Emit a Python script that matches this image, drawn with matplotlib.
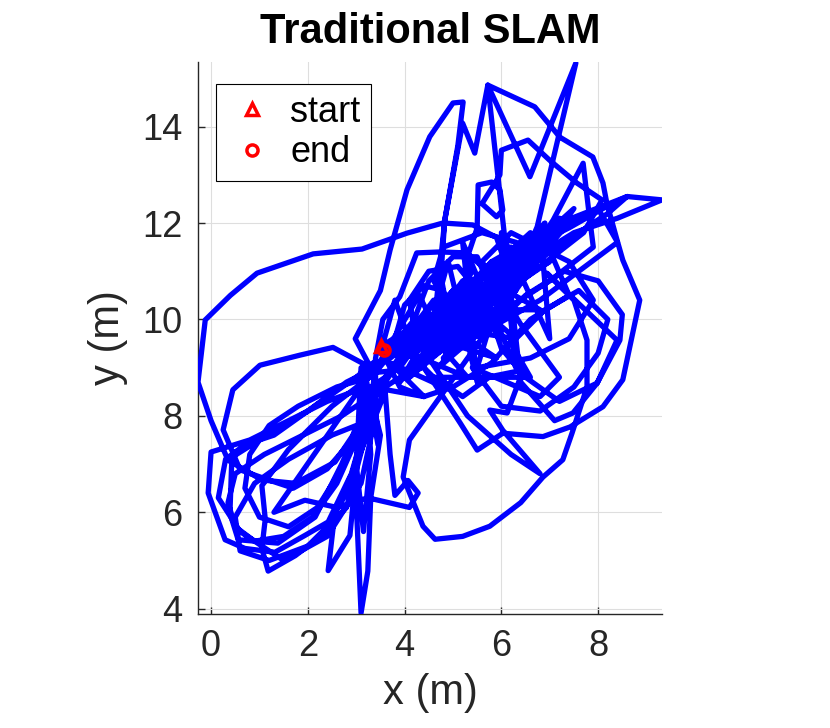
import numpy as np, matplotlib; matplotlib.use("Agg")
import matplotlib.pyplot as plt
from matplotlib.lines import Line2D

plt.rcParams.update({"font.family": ["Liberation Sans", "DejaVu Sans"], "font.size": 26,
                     "figure.facecolor": "white", "axes.facecolor": "white"})

# trajectory pieces (metres), drawn as one continuous path
seg_a_x = [3.52, 4.1, 4.6, 5.2, 5.9, 6.6, 7.4, 8.1, 8.6, 9.32, 8.4, 7.5, 6.7, 5.9, 5.1, 4.4, 3.8, 3.3]
seg_a_y = [9.45, 9.8, 10.3, 10.7, 11.1, 11.5, 11.9, 12.3, 12.55, 12.48, 12.1, 11.8, 11.3, 10.8, 10.3, 9.8, 9.3, 9.0]
seg_b_x = [2.52, 1.84, 1.01, 0.45, 0.25, 0.6, 1.16, 1.7, 2.4, 3.0, 3.4, 3.8, 4.3]
seg_b_y = [9.42, 9.26, 9.05, 8.54, 7.71, 6.88, 6.68, 6.5, 6.9, 7.6, 8.4, 9.0, 9.6]
seg_c_x = [5.0, 4.5, 5.6, 5.0, 6.1, 5.5, 6.5, 5.8, 6.9, 6.0, 5.2, 6.3, 4.8, 5.7, 4.2, 5.1, 3.9, 4.6, 3.6]
seg_c_y = [10.6, 9.4, 10.9, 9.8, 11.3, 10.2, 11.4, 10.4, 11.6, 11.0, 9.6, 10.6, 9.2, 10.2, 8.9, 10.1, 8.7, 9.9, 8.8]
seg_d_x = [3.2, 2.56, 1.74, 1.05, 0.35, 0.0, -0.27, -0.12, 0.4, 0.95, 2.11, 3.12, 4.05, 4.79, 5.41, 5.9, 6.1, 5.8, 5.2]
seg_d_y = [8.0, 7.04, 6.6, 6.67, 7.08, 7.9, 8.7, 9.99, 10.5, 10.96, 11.36, 11.46, 11.79, 12.0, 11.96, 11.7, 11.1, 10.6, 10.0]
seg_e_x = [3.3, 2.98, 3.5, 3.7, 4.05, 4.52, 5.0, 5.21, 5.1, 4.83, 4.75, 4.9, 5.6, 6.2]
seg_e_y = [9.0, 9.6, 10.6, 11.44, 12.69, 13.79, 14.49, 14.51, 13.6, 12.06, 10.9, 10.1, 10.5, 10.9]
seg_f_x = [4.6, 4.83, 5.2, 5.45, 5.72, 6.69, 7.21, 7.89, 8.10, 8.18, 8.39, 8.51, 8.86, 8.76, 8.51, 8.1, 7.42, 6.86, 6.03, 5.5, 5.15, 4.8, 4.4]
seg_f_y = [9.8, 12.06, 14.07, 13.45, 14.86, 14.41, 13.78, 13.37, 12.83, 12.41, 11.65, 11.23, 10.4, 9.93, 8.75, 8.19, 7.77, 7.57, 7.64, 7.29, 7.85, 8.39, 9.0]
seg_g_x = [4.1, 3.97, 4.38, 4.63, 5.2, 5.76, 6.4, 6.86, 7.27, 7.46, 7.77, 7.77, 7.5, 6.94, 8.39, 7.98, 7.48, 7.1, 6.4]
seg_g_y = [7.5, 6.73, 5.71, 5.44, 5.5, 5.71, 6.2, 6.73, 7.09, 7.64, 8.6, 9.57, 10.4, 10.96, 9.57, 8.68, 8.06, 7.9, 8.7]
seg_v_x = [5.72, 6.59, 7.54, 6.74, 6.3, 7.07, 7.69, 7.8, 7.9, 7.0]
seg_v_y = [14.86, 12.96, 15.32, 11.92, 10.9, 12.06, 13.24, 12.3, 11.5, 10.8]
seg_h_x = [3.6, 3.3, 3.0, 2.56, 2.42, 2.87, 2.98, 3.1, 3.24, 3.3, 3.5]
seg_h_y = [8.6, 7.8, 7.0, 6.0, 4.79, 5.52, 6.66, 3.91, 4.78, 6.3, 7.6]
seg_i_x = [3.2, 2.4, 1.6, 0.8, 0.0, -0.06, 0.29, 0.7, 1.32, 1.94, 2.42, 2.9, 3.3]
seg_i_y = [8.6, 8.3, 7.9, 7.5, 7.25, 6.4, 5.43, 5.25, 5.17, 5.52, 5.8, 6.8, 8.2]
seg_j_x = [3.4, 2.5, 1.6, 1.05, 1.12, 1.05, 1.18, 1.74, 2.29, 2.8, 3.2]
seg_j_y = [8.9, 8.2, 7.3, 6.55, 5.86, 5.25, 4.78, 5.1, 5.52, 6.4, 7.8]
seg_k_x = [3.0, 2.0, 1.0, 0.43, 0.39, 0.56, 1.38, 2.15, 2.7, 3.4]
seg_k_y = [8.8, 8.1, 7.5, 7.14, 5.98, 5.43, 5.36, 5.9, 7.0, 8.6]
seg_l_x = [3.6, 3.7, 3.8, 4.07, 4.28, 4.1, 3.24, 2.6, 1.94, 1.3, 2.2, 3.1]
seg_l_y = [8.5, 7.2, 6.35, 6.66, 6.4, 6.1, 6.3, 6.1, 6.25, 6.0, 7.3, 8.6]
seg_n_x = [4.0, 5.5, 7.0, 8.2, 8.6, 7.2, 5.8, 4.5, 5.2, 6.8, 8.4, 8.0, 6.5, 5.0]
seg_n_y = [8.9, 10.2, 11.4, 12.2, 12.55, 12.0, 11.2, 9.8, 9.5, 10.4, 11.6, 12.3, 11.5, 10.0]
seg_o_x = [5.5, 6.6, 7.4, 7.9, 7.4, 6.2, 5.6, 6.4, 7.2, 6.8, 5.4]
seg_o_y = [9.0, 9.2, 9.6, 10.4, 11.2, 11.8, 11.2, 9.9, 8.8, 8.4, 9.0]
seg_p_x = [3.4, 4.2, 3.7, 4.6, 4.0, 5.0, 4.3, 5.4, 4.7, 5.8, 5.1, 6.2, 5.4, 6.6, 5.9, 6.9, 6.2, 7.2, 6.5, 7.5]
seg_p_y = [8.9, 9.9, 9.2, 10.4, 9.4, 10.6, 9.7, 11.0, 10.0, 11.2, 10.3, 11.5, 10.7, 11.8, 10.9, 12.0, 11.2, 12.1, 11.4, 12.3]
seg_q_x = [7.0, 6.1, 6.8, 5.6, 6.3, 5.0, 5.9, 4.6, 5.3, 4.1, 4.8, 3.7, 4.4, 3.3]
seg_q_y = [11.2, 10.6, 10.2, 10.2, 9.6, 9.8, 9.2, 9.6, 8.8, 9.3, 8.6, 9.1, 8.4, 8.6]
seg_r_x = [4.2, 4.5, 5.0, 5.5, 5.7, 5.4, 4.9, 4.6, 4.8, 5.6, 6.3, 6.5, 6.1, 5.4]
seg_r_y = [10.0, 10.8, 11.3, 11.3, 10.8, 10.3, 10.3, 10.8, 11.5, 11.8, 11.6, 11.0, 10.5, 10.4]
seg_s_x = [5.3, 5.5, 5.52, 5.8, 5.97, 6.03, 5.9, 5.6, 5.97, 6.0, 6.55, 7.0, 7.56, 8.08, 7.7]
seg_s_y = [11.3, 11.9, 12.79, 12.85, 12.69, 12.27, 12.13, 12.4, 13.0, 13.51, 13.72, 13.3, 12.83, 12.48, 11.8]
seg_t_x = [3.3, 2.7, 1.9, 1.1, 0.5, 0.35, 0.5, 0.9, 1.5, 2.1, 2.6, 3.0, 3.2]
seg_t_y = [8.4, 8.0, 7.6, 7.2, 6.8, 6.2, 5.7, 5.4, 5.5, 5.9, 6.6, 7.5, 8.7]
seg_u_x = [3.4, 2.8, 2.0, 1.3, 0.7, 0.3, 0.15, 0.6, 1.5, 2.4, 3.1, 3.4]
seg_u_y = [9.0, 8.7, 8.1, 7.6, 7.4, 7.1, 6.3, 5.6, 5.0, 5.5, 6.6, 8.0]
seg_w_x = [3.1, 3.0, 3.15, 3.3, 3.2, 3.45, 3.35]
seg_w_y = [9.0, 7.0, 5.6, 7.2, 8.8, 7.4, 9.1]
seg_x_x = [5.6, 6.5, 7.3, 8.0, 8.5, 8.45, 7.98, 7.2, 6.5, 6.0, 5.8]
seg_x_y = [9.6, 10.5, 11.0, 10.8, 10.1, 9.57, 8.68, 8.3, 8.8, 9.4, 10.0]
seg_y_x = [6.0, 6.8, 7.5, 8.0, 8.2, 7.6, 6.9, 6.2, 6.6]
seg_y_y = [8.2, 8.1, 8.6, 9.3, 10.0, 10.6, 10.2, 9.5, 8.8]
seg_z_x = [4.6, 5.2, 5.76, 6.45, 6.12, 5.76, 6.03, 6.8, 6.2, 5.3, 4.5]
seg_z_y = [8.8, 8.4, 8.81, 8.95, 8.06, 8.12, 7.7, 6.8, 7.2, 8.0, 9.2]
seg_aa_x = [3.5, 3.8, 4.3, 4.9, 5.5, 5.2, 6.3, 6.0, 7.0, 6.8, 7.4, 6.6, 5.8, 5.0, 4.4, 3.9, 3.6]
seg_aa_y = [9.3, 10.4, 9.0, 11.2, 8.7, 11.6, 9.0, 11.8, 9.6, 11.9, 10.5, 10.0, 9.1, 8.6, 8.4, 8.6, 9.2]
seg_bb_x = [3.8, 4.0, 4.4, 4.8, 4.9, 4.6, 4.2, 4.1, 4.5, 5.1, 5.5, 5.4, 5.0, 4.6, 4.3]
seg_bb_y = [9.6, 10.3, 10.7, 10.6, 10.1, 9.7, 9.8, 10.4, 11.0, 11.1, 10.6, 10.0, 9.7, 9.9, 10.5]
seg_cc_x = [3.3, 2.6, 1.8, 1.2, 0.8, 0.7, 1.0, 1.6, 2.2, 2.7, 3.0, 2.5, 1.6, 0.9, 0.5, 0.6, 1.2, 2.0, 2.8, 3.3]
seg_cc_y = [8.8, 8.6, 8.2, 7.8, 7.2, 6.5, 5.9, 5.7, 6.1, 6.9, 7.8, 7.6, 7.1, 6.6, 5.9, 5.2, 5.0, 5.3, 6.1, 8.0]
seg_dd_x = [3.4, 3.55, 3.9, 4.25, 4.73, 5.29, 5.6, 5.9]
seg_dd_y = [9.2, 10.0, 10.47, 11.38, 11.4, 11.38, 11.1, 10.6]
seg_m_x = [3.6, 4.5, 3.9, 5.2, 4.4, 5.9, 5.0, 6.4, 5.5, 7.0, 6.0, 7.4, 6.5, 5.3, 6.2, 4.7, 5.4, 4.1, 4.8, 3.58]
seg_m_y = [8.8, 10.1, 9.0, 10.8, 9.3, 11.0, 9.7, 11.3, 10.0, 11.6, 10.5, 12.0, 11.0, 9.5, 10.3, 9.0, 9.9, 8.8, 9.5, 9.36]

start_xy = (3.52, 9.45)
end_xy = (3.58, 9.36)
xticks = [0, 2, 4, 6, 8]
yticks = [4, 6, 8, 10, 12, 14]

segs_x = [seg_a_x, seg_b_x, seg_c_x, seg_d_x, seg_e_x, seg_f_x, seg_p_x, seg_g_x, seg_v_x, seg_h_x,
          seg_t_x, seg_i_x, seg_j_x, seg_w_x, seg_k_x, seg_u_x, seg_l_x, seg_r_x, seg_s_x, seg_n_x,
          seg_x_x, seg_o_x, seg_y_x, seg_z_x, seg_aa_x, seg_bb_x, seg_cc_x, seg_dd_x, seg_q_x, seg_m_x]
segs_y = [seg_a_y, seg_b_y, seg_c_y, seg_d_y, seg_e_y, seg_f_y, seg_p_y, seg_g_y, seg_v_y, seg_h_y,
          seg_t_y, seg_i_y, seg_j_y, seg_w_y, seg_k_y, seg_u_y, seg_l_y, seg_r_y, seg_s_y, seg_n_y,
          seg_x_y, seg_o_y, seg_y_y, seg_z_y, seg_aa_y, seg_bb_y, seg_cc_y, seg_dd_y, seg_q_y, seg_m_y]
tx = np.concatenate(segs_x)
ty = np.concatenate(segs_y)

fig = plt.figure(figsize=(8.3, 7.28), dpi=100)
ax = fig.add_axes([198/830, 1-614/728, 464/830, 552/728])
ax.plot(tx, ty, color=(0, 0, 1), lw=3.8, solid_joinstyle='round', zorder=3)
ax.plot(*start_xy, '^', ms=8, mfc='none', mec='red', mew=2.5, zorder=5)
ax.plot(*end_xy, 'o', ms=8, mfc='none', mec='red', mew=2.5, zorder=5)

ax.set_xlim(-0.27, 9.32); ax.set_ylim(3.89, 15.34)
ax.set_xticks(xticks); ax.set_yticks(yticks)
ax.grid(True, color='0.87', lw=0.8, zorder=0)
ax.set_axisbelow(True)
for s in ('top', 'right'): ax.spines[s].set_visible(False)
for s in ('left', 'bottom'): ax.spines[s].set_color('#262626'); ax.spines[s].set_linewidth(1.0)
ax.tick_params(direction='in', length=5, width=1.0, colors='#262626', labelsize=26, pad=11)
ax.set_xlabel("x (m)", fontsize=30, color='#262626', labelpad=6)
ax.set_ylabel("y (m)", fontsize=30, color='#262626', labelpad=10)
ax.set_title("Traditional SLAM", fontsize=30, fontweight='bold', pad=14)

h = [Line2D([], [], ls='none', marker='^', ms=8, mfc='none', mec='red', mew=2.5),
     Line2D([], [], ls='none', marker='o', ms=8, mfc='none', mec='red', mew=2.5)]
leg = ax.legend(h, ["start", "end"], loc='upper left', bbox_to_anchor=(0.039, 0.96), fontsize=26,
                fancybox=False, edgecolor='black', framealpha=1, borderaxespad=0,
                borderpad=0.3, handlelength=1.4, handletextpad=0.35, labelspacing=0.15)
leg.get_frame().set_linewidth(0.8)

fig.savefig("out.png", dpi=100)
